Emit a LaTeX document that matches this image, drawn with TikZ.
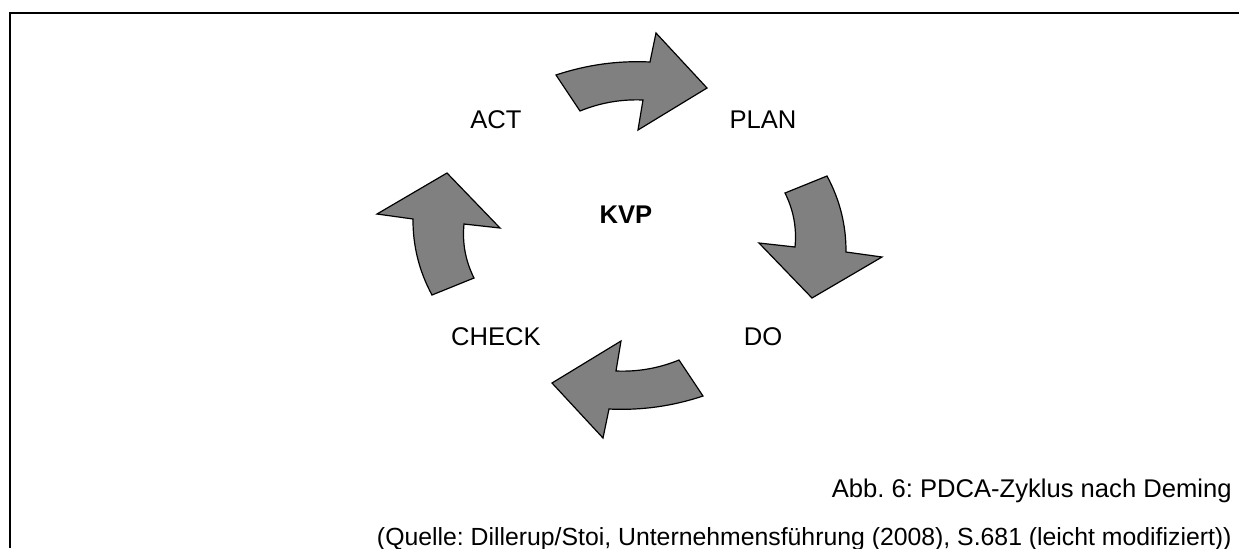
\documentclass[tikz,border=0pt]{standalone}
\usepackage{fontspec}
\setmainfont{Liberation Sans}
\definecolor{pfeilgrau}{RGB}{128,128,128}
\frenchspacing

\begin{document}
\begin{tikzpicture}[x=0.5pt,y=-0.5pt,
schrift/.style={font=\fontsize{12.8}{15}\selectfont,inner sep=0pt,anchor=base},
mitte/.style={schrift,font=\fontsize{12.8}{15}\selectfont\bfseries},
quelle/.style={schrift,anchor=base east},
pfeil/.style={fill=pfeilgrau,draw=black,line width=0.6pt,line join=miter},
rahmen/.style={line width=1pt}]

\useasboundingbox (0,0) rectangle (1239,548);

% Rahmen (oben und links)
\draw[rahmen] (10,548) -- (10,13) -- (1239,13);

% Phasen
\node[schrift] (act) at (496,128) {ACT};
\node[schrift] (plan) at (763,128) {PLAN};
\node[schrift] (check) at (496,345) {CHECK};
\node[schrift] (do) at (763,345) {DO};
\node[mitte] (kvp) at (626,223) {KVP};

% Pfeile
\draw[pfeil] (556,75) .. controls (586.5,64.8) and (617.9,60.4) .. (650,62) -- (656,33) -- (707,88) -- (638,130) -- (643,100) .. controls (621.2,99.1) and (600.2,102.7) .. (580,111) -- cycle;
\draw[pfeil] (785,193) -- (827,176) .. controls (839.8,199.7) and (846.2,225.1) .. (846,252) -- (882,257) -- (812,298) -- (759,243) -- (795,247) .. controls (796.9,228) and (793.5,210) .. (785,193) -- cycle;
\draw[pfeil] (703,396) .. controls (672.5,406.2) and (641.1,410.6) .. (609,409) -- (603,438) -- (552,383) -- (621,341) -- (616,371) .. controls (637.8,371.9) and (658.8,368.3) .. (679,360) -- cycle;
\draw[pfeil] (474,278) -- (432,295) .. controls (419.2,271.3) and (412.8,245.9) .. (413,219) -- (377,214) -- (447,173) -- (500,228) -- (464,224) .. controls (462.1,243) and (465.5,261) .. (474,278) -- cycle;

% Bildunterschrift
\node[quelle] (abb) at (1232,497) {Abb. 6: PDCA-Zyklus nach Deming};
\node[quelle,font=\fontsize{12.4}{15}\selectfont] (quelle) at (1232,545) {(Quelle: Dillerup/Stoi, Unternehmensführung (2008), S.681 (leicht modifiziert))};

\end{tikzpicture}
\end{document}
